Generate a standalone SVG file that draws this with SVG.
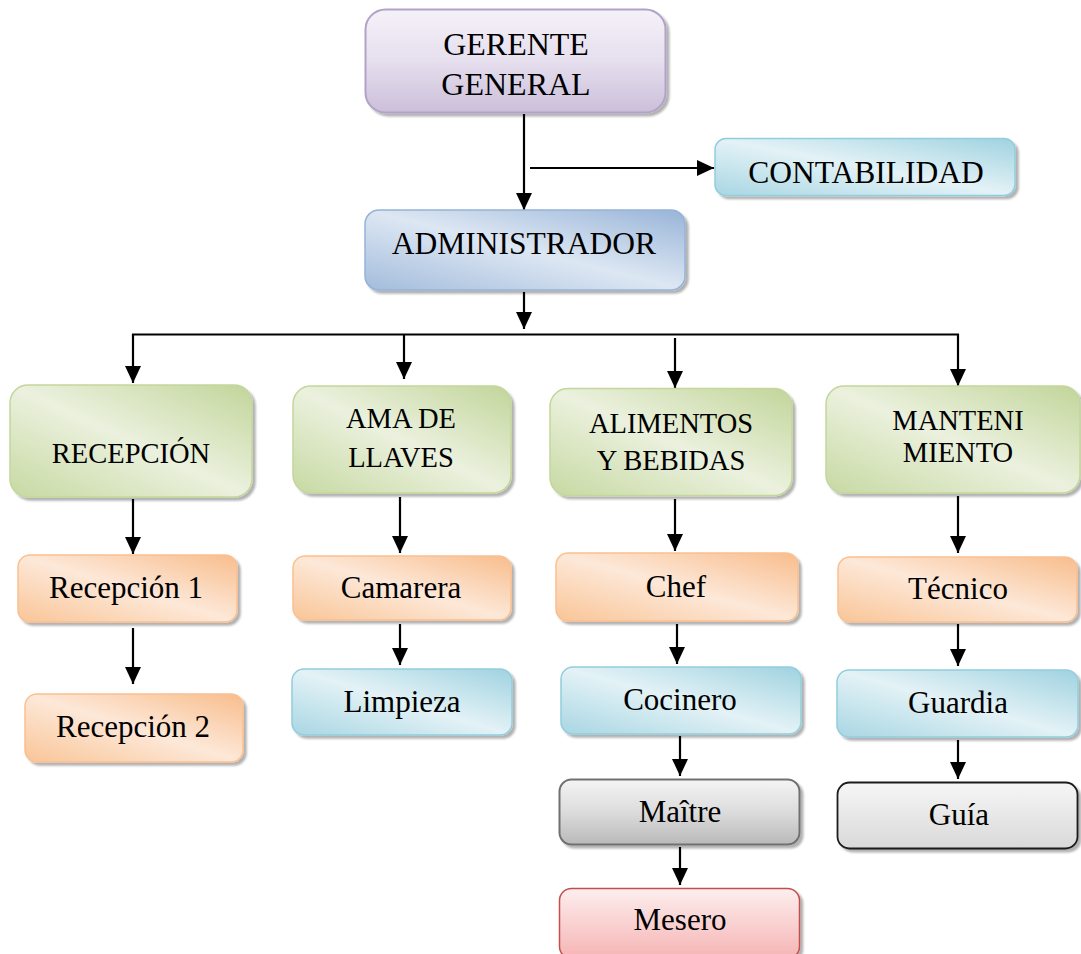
<svg xmlns="http://www.w3.org/2000/svg" width="1081" height="954" viewBox="0 0 1081 954">
  <defs>
    <style>
      text { font-family: "Liberation Serif", "Times New Roman", serif; fill: #000; text-anchor: middle; }
      .big { font-size: 31.5px; }
      .mid { font-size: 28.5px; }
      .sm { font-size: 31px; }
      .box { filter: url(#shadow); }
      .wire { stroke: #000; stroke-width: 2.2; fill: none; }
      .arrow { stroke: #000; stroke-width: 2.2; fill: none; marker-end: url(#head); }
    </style>
    <filter id="shadow" x="-10%" y="-10%" width="125%" height="130%">
      <feDropShadow dx="3" dy="3" stdDeviation="1.2" flood-color="#000" flood-opacity="0.3"/>
    </filter>
    <marker id="head" markerUnits="userSpaceOnUse" markerWidth="18" markerHeight="18" viewBox="0 0 18 18" refX="17" refY="9" orient="auto">
      <path d="M0,1 L17,9 L0,17 Z" fill="#000"/>
    </marker>
    <linearGradient id="gPurple" x1="0" y1="0" x2="0" y2="1">
      <stop offset="0" stop-color="#f5f1f8"/>
      <stop offset="0.5" stop-color="#e6dfee"/>
      <stop offset="1" stop-color="#cbbfda"/>
    </linearGradient>
    <linearGradient id="gBlue" x1="1" y1="0" x2="0" y2="1">
      <stop offset="0" stop-color="#98b4d8"/>
      <stop offset="0.5" stop-color="#dde7f3"/>
      <stop offset="1" stop-color="#a3bcdc"/>
    </linearGradient>
    <linearGradient id="gTeal" x1="1" y1="0" x2="0" y2="1">
      <stop offset="0" stop-color="#9fd2e0"/>
      <stop offset="0.5" stop-color="#e3f2f6"/>
      <stop offset="1" stop-color="#a8d6e3"/>
    </linearGradient>
    <linearGradient id="gGreen" x1="1" y1="0" x2="0" y2="1">
      <stop offset="0" stop-color="#c2d59a"/>
      <stop offset="0.5" stop-color="#ebf1de"/>
      <stop offset="1" stop-color="#c7d9a2"/>
    </linearGradient>
    <linearGradient id="gOrange" x1="1" y1="0" x2="0" y2="1">
      <stop offset="0" stop-color="#f8bd8c"/>
      <stop offset="0.5" stop-color="#fde8d8"/>
      <stop offset="1" stop-color="#f9c597"/>
    </linearGradient>
    <linearGradient id="gGray" x1="0" y1="0" x2="0" y2="1">
      <stop offset="0" stop-color="#f4f4f4"/>
      <stop offset="0.5" stop-color="#dcdcdc"/>
      <stop offset="1" stop-color="#b9b9b9"/>
    </linearGradient>
    <linearGradient id="gRed" x1="0" y1="0" x2="0" y2="1">
      <stop offset="0" stop-color="#fdeeee"/>
      <stop offset="1" stop-color="#f6b4b4"/>
    </linearGradient>
    <linearGradient id="gLight" x1="0" y1="0" x2="0" y2="1">
      <stop offset="0" stop-color="#f6f6f6"/>
      <stop offset="1" stop-color="#d9d9d9"/>
    </linearGradient>
  </defs>

  <rect width="1081" height="954" fill="#fff"/>

  <!-- connectors -->
  <g id="connectors">
    <line class="arrow" x1="524" y1="114" x2="524" y2="210"/>
    <line class="arrow" x1="530" y1="168" x2="714" y2="168"/>
    <line class="arrow" x1="524" y1="292" x2="524" y2="329"/>
    <line class="wire" x1="132" y1="334.5" x2="959" y2="334.5"/>
    <polyline class="arrow" points="133,334 133,383"/>
    <line class="arrow" x1="404" y1="334" x2="404" y2="379"/>
    <line class="arrow" x1="675" y1="338" x2="675" y2="388"/>
    <polyline class="arrow" points="958,334 958,386"/>

    <line class="arrow" x1="133" y1="499" x2="133" y2="554"/>
    <line class="arrow" x1="133" y1="628" x2="133" y2="684"/>

    <line class="arrow" x1="400" y1="497" x2="400" y2="553"/>
    <line class="arrow" x1="400" y1="624" x2="400" y2="665"/>

    <line class="arrow" x1="675" y1="499" x2="675" y2="551"/>
    <line class="arrow" x1="677" y1="624" x2="677" y2="664"/>
    <line class="arrow" x1="680" y1="736" x2="680" y2="776"/>
    <line class="arrow" x1="680" y1="847" x2="680" y2="885"/>

    <line class="arrow" x1="958" y1="496" x2="958" y2="553"/>
    <line class="arrow" x1="958" y1="624" x2="958" y2="666"/>
    <line class="arrow" x1="958" y1="740" x2="958" y2="779"/>
  </g>

  <!-- top level -->
  <g id="gerente">
    <rect class="box" x="365.5" y="9.5" width="300" height="103" rx="20" fill="url(#gPurple)" stroke="#b3a2c7" stroke-width="2"/>
    <text class="big" x="516" y="55" style="font-size:32px">GERENTE</text>
    <text class="big" x="516" y="95" style="font-size:32px">GENERAL</text>
  </g>
  <g id="contabilidad">
    <rect class="box" x="715" y="138.5" width="300" height="57" rx="11" fill="url(#gTeal)" stroke="#93cddd" stroke-width="1.5"/>
    <text class="big" x="866" y="183">CONTABILIDAD</text>
  </g>
  <g id="administrador">
    <rect class="box" x="365" y="210" width="320" height="80" rx="14" fill="url(#gBlue)" stroke="#95b3d7" stroke-width="1.5"/>
    <text class="big" x="524" y="254">ADMINISTRADOR</text>
  </g>

  <!-- departments -->
  <g id="recepcion">
    <rect class="box" x="10" y="385" width="242" height="112" rx="18" fill="url(#gGreen)" stroke="#c3d69b" stroke-width="1.5"/>
    <text class="mid" x="131" y="463">RECEPCIÓN</text>
  </g>
  <g id="ama-de-llaves">
    <rect class="box" x="293" y="386" width="218" height="107" rx="18" fill="url(#gGreen)" stroke="#c3d69b" stroke-width="1.5"/>
    <text class="mid" x="401" y="428">AMA DE</text>
    <text class="mid" x="401" y="467">LLAVES</text>
  </g>
  <g id="alimentos">
    <rect class="box" x="550" y="388.5" width="242" height="107" rx="18" fill="url(#gGreen)" stroke="#c3d69b" stroke-width="1.5"/>
    <text class="mid" x="671" y="433">ALIMENTOS</text>
    <text class="mid" x="671" y="470">Y BEBIDAS</text>
  </g>
  <g id="mantenimiento">
    <rect class="box" x="826" y="386" width="254" height="107" rx="18" fill="url(#gGreen)" stroke="#c3d69b" stroke-width="1.5"/>
    <text class="mid" x="958" y="430">MANTENI</text>
    <text class="mid" x="958" y="462">MIENTO</text>
  </g>

  <!-- recepción column -->
  <g id="recepcion-1">
    <rect class="box" x="18" y="555" width="219" height="67" rx="12" fill="url(#gOrange)" stroke="#fac090" stroke-width="1.5"/>
    <text class="sm" x="126" y="598">Recepción 1</text>
  </g>
  <g id="recepcion-2">
    <rect class="box" x="25" y="694" width="218" height="68" rx="12" fill="url(#gOrange)" stroke="#fac090" stroke-width="1.5"/>
    <text class="sm" x="133" y="737">Recepción 2</text>
  </g>

  <!-- ama de llaves column -->
  <g id="camarera">
    <rect class="box" x="293" y="556" width="218" height="64" rx="12" fill="url(#gOrange)" stroke="#fac090" stroke-width="1.5"/>
    <text class="sm" x="401" y="598">Camarera</text>
  </g>
  <g id="limpieza">
    <rect class="box" x="292" y="669" width="220" height="66" rx="12" fill="url(#gTeal)" stroke="#93cddd" stroke-width="1.5"/>
    <text class="sm" x="402" y="712">Limpieza</text>
  </g>

  <!-- alimentos column -->
  <g id="chef">
    <rect class="box" x="556" y="553" width="242" height="68" rx="12" fill="url(#gOrange)" stroke="#fac090" stroke-width="1.5"/>
    <text class="sm" x="676" y="597">Chef</text>
  </g>
  <g id="cocinero">
    <rect class="box" x="561" y="667" width="240" height="67" rx="12" fill="url(#gTeal)" stroke="#93cddd" stroke-width="1.5"/>
    <text class="sm" x="680" y="710">Cocinero</text>
  </g>
  <g id="maitre">
    <rect class="box" x="559.5" y="779.5" width="240" height="65" rx="12" fill="url(#gGray)" stroke="#707070" stroke-width="2"/>
    <text class="sm" x="680" y="822">Maître</text>
  </g>
  <g id="mesero">
    <rect class="box" x="559.5" y="888.5" width="240" height="70" rx="12" fill="url(#gRed)" stroke="#c0504d" stroke-width="1.5"/>
    <text class="sm" x="680" y="930">Mesero</text>
  </g>

  <!-- mantenimiento column -->
  <g id="tecnico">
    <rect class="box" x="838" y="557" width="239" height="65" rx="12" fill="url(#gOrange)" stroke="#fac090" stroke-width="1.5"/>
    <text class="sm" x="958" y="599">Técnico</text>
  </g>
  <g id="guardia">
    <rect class="box" x="837" y="670" width="241" height="67" rx="12" fill="url(#gTeal)" stroke="#93cddd" stroke-width="1.5"/>
    <text class="sm" x="958" y="713">Guardia</text>
  </g>
  <g id="guia">
    <rect class="box" x="837.5" y="782.5" width="240" height="66" rx="12" fill="url(#gLight)" stroke="#1a1a1a" stroke-width="1.8"/>
    <text class="sm" x="959" y="825">Guía</text>
  </g>
</svg>
